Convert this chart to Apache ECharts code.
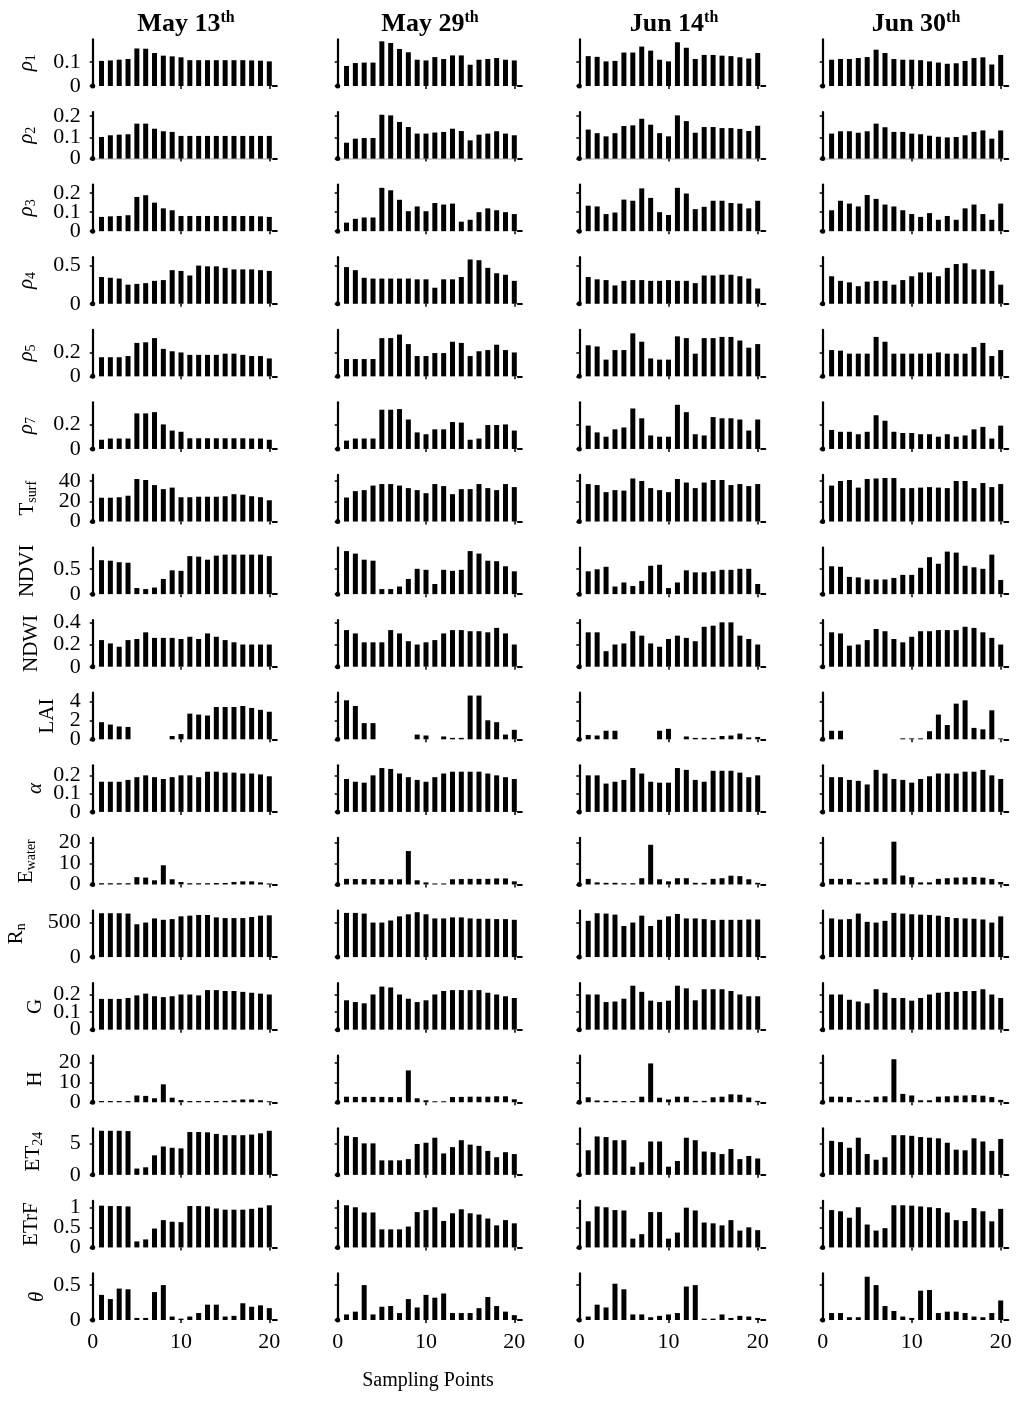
<!DOCTYPE html>
<html><head><meta charset="utf-8">
<script src="https://cdn.jsdelivr.net/npm/echarts@6/dist/echarts.min.js"></script>
<style>html,body{margin:0;padding:0;background:#fff}#c{width:1024px;height:1401px}</style>
</head><body><div id="c"></div>
<script>
// ---------- data ----------
const dates = ['May 13', 'May 29', 'Jun 14', 'Jun 30'];
const xTickValues = [0, 10, 20];
const xName = 'Sampling Points';

const rho1 = [
 [0.105,0.107,0.11,0.113,0.157,0.156,0.138,0.127,0.124,0.12,0.108,0.108,0.108,0.108,0.108,0.108,0.108,0.107,0.106,0.103],
 [0.084,0.096,0.098,0.098,0.187,0.18,0.155,0.141,0.11,0.107,0.121,0.113,0.128,0.128,0.089,0.11,0.113,0.117,0.11,0.107],
 [0.125,0.122,0.103,0.105,0.14,0.14,0.165,0.148,0.11,0.103,0.183,0.16,0.113,0.13,0.13,0.127,0.125,0.12,0.115,0.138],
 [0.11,0.113,0.113,0.117,0.121,0.152,0.138,0.113,0.11,0.11,0.108,0.103,0.098,0.093,0.095,0.105,0.117,0.12,0.09,0.13]
];
const rho2 = [
 [0.102,0.11,0.113,0.115,0.165,0.165,0.141,0.129,0.126,0.107,0.107,0.107,0.107,0.107,0.107,0.107,0.107,0.107,0.107,0.107],
 [0.075,0.094,0.097,0.097,0.207,0.204,0.173,0.149,0.118,0.118,0.123,0.126,0.141,0.13,0.086,0.113,0.118,0.129,0.118,0.11],
 [0.137,0.12,0.105,0.12,0.154,0.157,0.188,0.16,0.12,0.105,0.204,0.177,0.122,0.149,0.149,0.144,0.144,0.14,0.13,0.155],
 [0.118,0.129,0.129,0.122,0.129,0.165,0.148,0.126,0.126,0.118,0.115,0.108,0.103,0.1,0.102,0.11,0.126,0.133,0.094,0.133]
];
const rho3 = [
 [0.075,0.078,0.08,0.084,0.18,0.189,0.15,0.12,0.11,0.08,0.08,0.08,0.08,0.08,0.08,0.08,0.08,0.08,0.078,0.075],
 [0.045,0.065,0.072,0.072,0.228,0.215,0.165,0.105,0.13,0.105,0.148,0.14,0.145,0.05,0.06,0.1,0.12,0.11,0.1,0.09],
 [0.134,0.13,0.09,0.098,0.166,0.16,0.225,0.175,0.1,0.085,0.228,0.198,0.116,0.128,0.16,0.16,0.148,0.145,0.12,0.16],
 [0.11,0.16,0.145,0.13,0.19,0.17,0.14,0.13,0.11,0.09,0.075,0.095,0.06,0.08,0.06,0.12,0.14,0.09,0.06,0.145]
];
const rho4 = [
 [0.35,0.34,0.33,0.25,0.26,0.27,0.3,0.31,0.44,0.43,0.37,0.5,0.49,0.49,0.47,0.45,0.45,0.45,0.44,0.43],
 [0.48,0.44,0.34,0.33,0.33,0.33,0.33,0.33,0.32,0.32,0.21,0.32,0.32,0.35,0.58,0.57,0.47,0.4,0.38,0.3],
 [0.35,0.32,0.31,0.24,0.3,0.31,0.31,0.3,0.3,0.31,0.3,0.3,0.27,0.37,0.37,0.38,0.38,0.36,0.33,0.2],
 [0.36,0.3,0.28,0.23,0.29,0.3,0.3,0.25,0.31,0.36,0.41,0.41,0.36,0.47,0.52,0.53,0.45,0.45,0.43,0.25]
];
const rho5 = [
 [0.16,0.16,0.16,0.17,0.28,0.285,0.32,0.23,0.21,0.2,0.18,0.18,0.18,0.18,0.19,0.19,0.18,0.17,0.17,0.15],
 [0.145,0.145,0.145,0.145,0.32,0.32,0.35,0.27,0.17,0.17,0.195,0.195,0.29,0.28,0.17,0.21,0.22,0.265,0.22,0.2],
 [0.26,0.25,0.14,0.22,0.22,0.36,0.29,0.15,0.14,0.14,0.335,0.32,0.19,0.32,0.32,0.33,0.33,0.3,0.24,0.27],
 [0.22,0.215,0.19,0.19,0.19,0.33,0.29,0.19,0.19,0.19,0.19,0.19,0.2,0.19,0.19,0.19,0.245,0.28,0.17,0.22]
];
const rho7 = [
 [0.075,0.085,0.085,0.085,0.29,0.29,0.3,0.2,0.15,0.14,0.087,0.087,0.087,0.087,0.087,0.087,0.087,0.085,0.085,0.075],
 [0.068,0.085,0.085,0.085,0.32,0.32,0.325,0.24,0.135,0.12,0.16,0.16,0.22,0.215,0.075,0.085,0.195,0.195,0.2,0.15],
 [0.19,0.135,0.1,0.16,0.175,0.33,0.25,0.11,0.1,0.1,0.36,0.3,0.12,0.11,0.26,0.25,0.25,0.24,0.15,0.24],
 [0.155,0.14,0.14,0.12,0.14,0.275,0.23,0.14,0.13,0.13,0.12,0.12,0.1,0.12,0.1,0.11,0.16,0.18,0.085,0.19]
];
const tsurf = [
 [23.5,23.5,24,25.5,42,41,36,32,33.5,24,24,24.5,24.5,24.5,25,27,26.5,25,24,21],
 [23.7,30,31,35.5,37,37,35.5,33,31,28,37,35,27,32,32,37,33,31,37,34],
 [37,36,29,31,30.5,42.5,40,33,31,29,42,38.5,33,38.5,41,41,36,37,35,37],
 [35.5,40,41,33.5,42,42.5,43,43,33,33,33.5,34,33.5,33,40,40,33,38,34,37]
];
const ndvi = [
 [0.67,0.66,0.63,0.62,0.12,0.1,0.13,0.3,0.47,0.46,0.75,0.74,0.68,0.76,0.78,0.78,0.78,0.78,0.78,0.75],
 [0.85,0.8,0.68,0.66,0.1,0.1,0.15,0.3,0.5,0.48,0.2,0.48,0.46,0.48,0.85,0.8,0.66,0.65,0.55,0.45],
 [0.45,0.49,0.54,0.15,0.23,0.16,0.26,0.56,0.58,0.12,0.23,0.47,0.43,0.43,0.45,0.48,0.48,0.5,0.5,0.2],
 [0.55,0.54,0.34,0.33,0.29,0.29,0.29,0.32,0.38,0.38,0.52,0.73,0.6,0.84,0.82,0.56,0.53,0.5,0.78,0.28]
];
const ndwi = [
 [0.24,0.21,0.18,0.24,0.25,0.31,0.26,0.26,0.26,0.25,0.27,0.25,0.3,0.27,0.24,0.22,0.2,0.2,0.2,0.2],
 [0.33,0.3,0.22,0.22,0.22,0.33,0.3,0.23,0.2,0.22,0.24,0.3,0.33,0.33,0.32,0.32,0.31,0.35,0.3,0.2],
 [0.31,0.31,0.14,0.2,0.21,0.32,0.28,0.21,0.18,0.25,0.28,0.26,0.23,0.36,0.37,0.4,0.4,0.28,0.25,0.2],
 [0.31,0.3,0.19,0.2,0.24,0.34,0.32,0.25,0.22,0.27,0.32,0.32,0.33,0.33,0.33,0.36,0.35,0.31,0.26,0.2]
];
const lai = [
 [1.8,1.55,1.35,1.3,0,0,0,0,0.35,0.55,2.7,2.6,2.5,3.4,3.4,3.4,3.5,3.3,3.1,2.9],
 [4.1,3.5,1.7,1.7,0,0,0,0,0.5,0.4,0,0.3,0.15,0.15,4.6,4.6,2.0,1.8,0.5,1.0],
 [0.45,0.4,0.9,0.9,0,0,0,0,0.9,1.1,0,0.3,0.15,0.15,0.15,0.35,0.4,0.6,0.2,0.25],
 [0.9,0.9,0,0,0,0,0,0,0.1,0.1,0.1,0.85,2.6,1.5,3.75,4.1,1.2,1.05,3.05,0.1]
];
const alpha = [
 [0.165,0.165,0.165,0.175,0.19,0.2,0.19,0.18,0.19,0.2,0.2,0.19,0.22,0.22,0.215,0.215,0.21,0.21,0.205,0.195],
 [0.18,0.165,0.16,0.2,0.24,0.235,0.21,0.19,0.175,0.165,0.19,0.21,0.22,0.22,0.22,0.22,0.21,0.2,0.19,0.18],
 [0.2,0.2,0.155,0.165,0.175,0.24,0.21,0.165,0.16,0.16,0.24,0.23,0.175,0.165,0.225,0.225,0.225,0.215,0.19,0.2],
 [0.19,0.19,0.175,0.17,0.15,0.23,0.21,0.18,0.175,0.16,0.18,0.195,0.21,0.21,0.21,0.22,0.22,0.23,0.2,0.18]
];
const ewater = [
 [0.6,0.6,0.6,0.6,3.5,3.3,2,9.2,2.5,1.2,0.6,0.6,0.6,0.7,0.7,1.2,1.5,1.5,1,0.5],
 [2.7,2.6,2.6,2.6,2.6,2.5,2.5,16,2,1,0.5,0.5,2.5,2.6,2.7,2.7,2.7,2.9,2.9,1.5],
 [2.7,1.0,0.8,0.8,0.6,0.6,3.0,19,2.5,1.5,3.0,3.0,0.8,0.8,2.7,3.0,4.2,4.0,2.5,0.8],
 [2.7,2.7,2.6,1.0,1.0,2.8,3.0,20.5,4.3,3.5,1.0,1.0,2.7,3.0,3.3,3.4,3.6,3.3,2.6,1.2]
];
const rn = [
 [635,635,635,630,475,500,560,540,550,590,600,610,610,575,565,565,565,580,600,605],
 [640,640,630,500,500,530,590,620,650,620,560,560,575,575,560,555,555,550,550,540],
 [525,635,630,615,450,500,600,450,540,590,625,560,560,550,535,540,540,540,545,545],
 [560,545,550,630,510,500,525,640,630,620,615,610,600,580,565,560,555,545,500,590]
];
const gFlux = [
 [0.175,0.175,0.175,0.18,0.195,0.205,0.19,0.185,0.19,0.2,0.2,0.195,0.225,0.225,0.22,0.22,0.215,0.21,0.205,0.2],
 [0.167,0.157,0.15,0.2,0.245,0.24,0.2,0.176,0.157,0.167,0.2,0.22,0.225,0.225,0.225,0.225,0.21,0.2,0.19,0.18],
 [0.2,0.2,0.157,0.16,0.176,0.25,0.215,0.165,0.157,0.165,0.25,0.235,0.167,0.23,0.23,0.23,0.22,0.2,0.19,0.19],
 [0.2,0.2,0.17,0.16,0.15,0.23,0.21,0.18,0.18,0.165,0.18,0.2,0.21,0.215,0.215,0.22,0.22,0.23,0.2,0.18]
];
const hFlux = [
 [0.6,0.6,0.6,0.6,3.4,3.2,2,9,2.3,1.1,0.6,0.6,0.6,0.6,0.7,1,1.4,1.4,1,0.5],
 [2.8,2.7,2.7,2.7,2.7,2.6,2.6,16,2,1,0.5,0.5,2.6,2.7,2.8,2.8,2.8,3,3,1.5],
 [2.5,0.9,0.7,0.7,0.6,0.6,2.8,19.5,2.3,1.4,2.8,2.8,0.7,0.7,2.5,2.8,4,3.8,2.4,0.7],
 [2.8,2.8,2.6,1.0,1.0,2.8,3.0,21.6,4.2,3.4,1.0,1.0,2.8,3.0,3.3,3.4,3.6,3.3,2.6,1.2]
];
const et24 = [
 [7.0,7.0,7.0,6.95,1.0,1.2,3.1,4.5,4.3,4.2,6.8,6.8,6.75,6.5,6.3,6.3,6.3,6.4,6.6,7.0],
 [6.2,6.0,5.0,5.0,2.3,2.3,2.3,2.5,4.9,5.1,5.9,3.4,4.4,5.5,4.8,4.6,3.8,2.8,3.6,3.3],
 [3.9,6.1,6.0,5.5,5.5,1.3,2.0,5.3,5.3,1.3,2.2,5.9,5.5,3.7,3.6,3.3,4.1,2.5,3.0,2.6],
 [5.4,5.2,4.3,5.9,3.3,2.4,2.8,6.3,6.3,6.2,6.0,5.9,5.8,5.1,4.0,3.9,5.8,5.3,3.8,5.7]
];
const etrf = [
 [1.04,1.03,1.03,1.02,0.15,0.2,0.47,0.68,0.64,0.63,1.03,1.03,1.02,0.97,0.94,0.94,0.94,0.96,0.99,1.05],
 [1.05,1.0,0.87,0.87,0.45,0.45,0.45,0.52,0.88,0.93,1.0,0.66,0.85,0.95,0.85,0.82,0.72,0.55,0.68,0.6],
 [0.65,1.02,1.0,0.93,0.92,0.22,0.33,0.88,0.88,0.22,0.37,0.99,0.92,0.62,0.6,0.55,0.68,0.42,0.5,0.43],
 [0.93,0.9,0.74,1.0,0.57,0.42,0.48,1.05,1.05,1.04,1.02,1.0,0.98,0.87,0.68,0.66,0.98,0.9,0.65,0.96]
];
const theta = [
 [0.36,0.3,0.45,0.44,0.03,0.03,0.4,0.5,0.05,0.02,0.05,0.1,0.22,0.22,0.05,0.06,0.24,0.19,0.21,0.17],
 [0.08,0.12,0.5,0.08,0.19,0.2,0.1,0.3,0.18,0.36,0.32,0.38,0.1,0.1,0.1,0.17,0.33,0.2,0.12,0.07],
 [0.05,0.22,0.18,0.52,0.44,0.08,0.08,0.04,0.06,0.08,0.1,0.48,0.5,0.02,0.02,0.08,0.03,0.06,0.05,0.03],
 [0.1,0.1,0.04,0.04,0.62,0.5,0.2,0.13,0.05,0.03,0.42,0.43,0.1,0.12,0.12,0.1,0.05,0.04,0.1,0.28]
];

// row labels (main text, subscript, italic) and y tick labels / limits
const rowData   = [rho1, rho2, rho3, rho4, rho5, rho7, tsurf, ndvi, ndwi, lai, alpha, ewater, rn, gFlux, hFlux, et24, etrf, theta];
const rowMain   = ['ρ','ρ','ρ','ρ','ρ','ρ','T','NDVI','NDWI','LAI','α','E','R','G','H','ET','ETrF','θ'];
const rowSub    = ['1','2','3','4','5','7','surf','','','','','water','n','','','24','',''];
const rowItalic = [1,1,1,1,1,1,0,0,0,0,1,0,0,0,0,0,0,1];
const rowTicks  = [[0,0.1],[0,0.1,0.2],[0,0.1,0.2],[0,0.5],[0,0.2],[0,0.2],[0,20,40],[0,0.5],[0,0.2,0.4],[0,2,4],
                   [0,0.1,0.2],[0,10,20],[0,500],[0,0.1,0.2],[0,10,20],[0,5],[0,0.5,1],[0,0.5]];
const rowMax    = [0.195,0.22,0.245,0.61,0.39,0.38,46,0.92,0.42,4.9,0.255,22.3,675,0.265,23.4,7.4,1.16,0.667];

// ---------- layout ----------
const FONT = 'Liberation Serif';
const colX0 = [92.7, 337.7, 579.3, 822.7];
const colUnit = [8.83, 8.83, 8.92, 8.9];
const titleX = [186, 430, 674, 916];
const labelX = [26,26,26,26,26,26,27,27,31,47,35,26,16,35,35,33,31,37];
const zero0 = 86, pitch = 72.59, plotH = 46.6;

function labelStyle(values) {
  return {show: true, customValues: values, margin: 12, fontFamily: FONT, fontSize: 22, color: '#000',
          showMinLabel: true, showMaxLabel: true, hideOverlap: false};
}

const grids = [], xAxes = [], yAxes = [], series = [], graphics = [];
rowData.forEach((data, r) => {
  const zero = zero0 + pitch * r;
  const top = zero - plotH;
  const last = r === rowData.length - 1;
  const ticks = rowTicks[r];
  const evenTicks = ticks.filter((t, i) => i % 2 === 0);
  const oddTicks = ticks.filter((t, i) => i % 2 === 1);
  for (let c = 0; c < 4; c++) {
    const gi = grids.length;
    const endDash = colUnit[c] * 20.4;
    grids.push({left: colX0[c], top: top, width: colUnit[c] * 21, height: plotH, containLabel: false, outerBoundsMode: 'none'});
    const xi = xAxes.length;
    xAxes.push({
      type: 'value', gridIndex: gi, min: 0, max: 21, position: 'bottom',
      axisLine: {show: true, lineStyle: {color: '#000', width: 2, type: [0, endDash, colUnit[c] * 0.45, 400]}},
      axisTick: {show: true, customValues: [10, 20], length: 3, lineStyle: {color: '#000', width: 1.5}},
      axisLabel: {show: last, customValues: xTickValues, margin: 11, fontFamily: FONT, fontSize: 22, color: '#000'},
      splitLine: {show: false}
    });
    if (r === 1) {
      // light grey baseline seen in the second row of the reference
      xAxes.push({
        type: 'value', gridIndex: gi, min: 0, max: 21, position: 'bottom', offset: 0,
        axisLine: {show: true, lineStyle: {color: '#c4c4c4', width: 1.5, type: [colUnit[c] * 20.3, 400]}},
        axisTick: {show: false}, axisLabel: {show: false}, splitLine: {show: false}
      });
    }
    const yi = yAxes.length;
    yAxes.push({
      type: 'value', gridIndex: gi, min: 0, max: rowMax[r], position: 'left',
      axisLine: {show: true, lineStyle: {color: '#000', width: 2.2}, symbol: ['circle', 'none'], symbolSize: [5, 5]},
      axisTick: {show: true, customValues: ticks, length: 3, lineStyle: {color: '#000', width: 1.5}},
      axisLabel: c === 0 ? labelStyle(evenTicks) : {show: false},
      splitLine: {show: false}
    });
    if (c === 0 && oddTicks.length) {
      // second label layer so closely spaced tick labels are not dropped
      yAxes.push({
        type: 'value', gridIndex: gi, min: 0, max: rowMax[r], position: 'left', offset: 0,
        axisLine: {show: false}, axisTick: {show: false},
        axisLabel: labelStyle(oddTicks),
        splitLine: {show: false}
      });
    }
    series.push({
      type: 'bar', xAxisIndex: xi, yAxisIndex: yi, barWidth: 5, silent: true,
      itemStyle: {color: '#000'},
      data: data[c].map((v, k) => [k + 1, v])
    });
  }
  // row label
  const sub = rowSub[r];
  graphics.push({
    type: 'text', x: labelX[r], y: zero - plotH / 2, rotation: Math.PI / 2,
    style: {
      text: '{m|' + rowMain[r] + '}' + (sub ? '{s|' + sub + '}' : ''),
      align: 'center', verticalAlign: 'middle',
      rich: {
        m: {fontFamily: FONT, fontSize: 21, fontStyle: rowItalic[r] ? 'italic' : 'normal', fill: '#000'},
        s: {fontFamily: FONT, fontSize: 14, fill: '#000', padding: [10, 0, 0, 0]}
      }
    }
  });
});

dates.forEach((d, c) => {
  graphics.push({
    type: 'text', x: titleX[c], y: 24,
    style: {
      text: '{m|' + d + '}{s|th}', align: 'center', verticalAlign: 'middle',
      rich: {
        m: {fontFamily: FONT, fontSize: 26, fontWeight: 'bold', fill: '#000'},
        s: {fontFamily: FONT, fontSize: 16, fontWeight: 'bold', fill: '#000', padding: [0, 0, 13, 0]}
      }
    }
  });
});
graphics.push({
  type: 'text', x: 428, y: 1381,
  style: {text: xName, align: 'center', verticalAlign: 'middle', fontFamily: FONT, fontSize: 20, fill: '#000'}
});

const chart = echarts.init(document.getElementById('c'), null, {renderer: 'canvas'});
chart.setOption({
  animation: false,
  backgroundColor: '#fff',
  grid: grids, xAxis: xAxes, yAxis: yAxes, series: series,
  graphic: graphics
});
</script></body></html>
